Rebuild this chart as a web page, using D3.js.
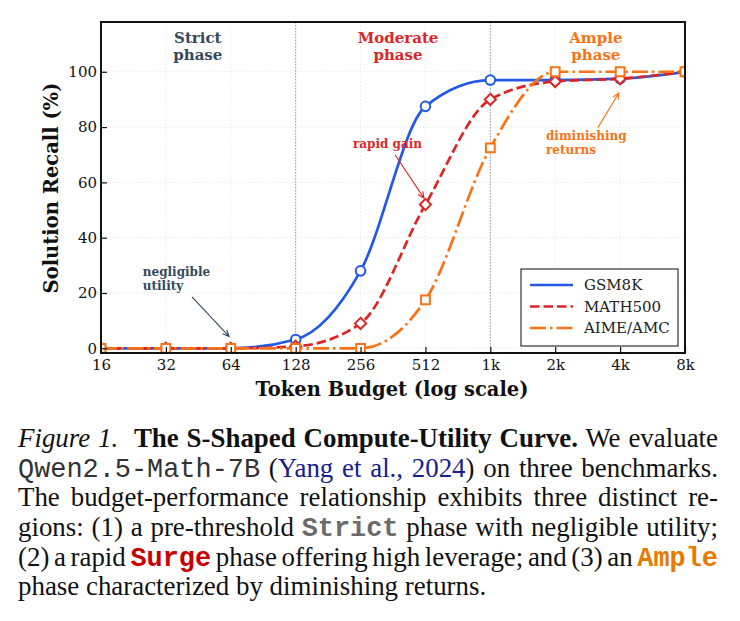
<!DOCTYPE html>
<html>
<head>
<meta charset="utf-8">
<script src="https://cdn.jsdelivr.net/npm/d3@7"></script>
<style>
    body { margin: 0; background: #fff; }
    #chart { position: absolute; left: 0; top: 0; }
    #caption {
        position: absolute; left: 18px; top: 424px; width: 700px;
        font-family: "Liberation Serif", "Times New Roman", serif;
        font-size: 26.9px; color: #111;
    }
    #caption div {
        height: 29.7px; line-height: 29.7px; white-space: normal;
        text-align: justify; text-align-last: justify; word-spacing: -4px;
    }
    #caption div.last { text-align-last: left; word-spacing: 0; }
    .tt { font-family: "Liberation Mono", "Courier New", monospace; color: #333; }
    .ttb { font-family: "Liberation Mono", "Courier New", monospace; font-weight: bold; }
</style>
</head>
<body>
<div id="chart"></div>
<div id="caption">
    <div><i>Figure 1.</i>&nbsp; <b>The S-Shaped Compute-Utility Curve.</b> We evaluate</div>
    <div><span class="tt">Qwen2.5-Math-7B</span> (<span style="color:#16208f">Yang et al., 2024</span>) on three benchmarks.</div>
    <div>The budget-performance relationship exhibits three distinct re-</div>
    <div>gions: (1) a pre-threshold <span class="ttb" style="color:#6b6b6b">Strict</span> phase with negligible utility;</div>
    <div>(2) a rapid <span class="ttb" style="color:#c80000">Surge</span> phase offering high leverage; and (3) an <span class="ttb" style="color:#e87a00">Ample</span></div>
    <div class="last">phase characterized by diminishing returns.</div>
</div>
<script>
// Data ----------------------------------------------------------------------

const budgets = [16, 32, 64, 128, 256, 512, 1024, 2048, 4096, 8192];
const budgetLabels = ["16", "32", "64", "128", "256", "512", "1k", "2k", "4k", "8k"];
const recallTicks = [0, 20, 40, 60, 80, 100];

const gsm8k = [0, 0, 0, 3.2, 28, 87.5, 97, 97, 97.5, 100];
const math500 = [0, 0, 0, 0.7, 9, 52, 90, 96.5, 97.5, 100];
const aimeAmc = [0, 0, 0, 0, 0, 17.5, 72.5, 100, 100, 100];

const seriesNames = ["GSM8K", "MATH500", "AIME/AMC"];
const seriesValues = [gsm8k, math500, aimeAmc];

// phase boundaries and labels (budget, text lines)
const phaseBounds = [128, 1024];
const phaseLabels = [
    {b: 45, lines: ["Strict", "phase"], color: "#34495e"},
    {b: 382, lines: ["Moderate", "phase"], color: "#dc2626"},
    {b: 3160, lines: ["Ample", "phase"], color: "#f97316"}
];

// annotations: text position and arrow, in data units
const notes = [
    {lines: ["negligible", "utility"], tb: 25, tv: 26.1, from: [42.3, 18.6], to: [62.8, 4.3], color: "#34495e"},
    {lines: ["rapid gain"], tb: 236, tv: 72.5, from: [370, 70], to: [504, 54.3], color: "#dc2626"},
    {lines: ["diminishing", "returns"], tb: 1855, tv: 75.4, from: [3231, 79.8], to: [4040, 92.3], color: "#f97316"}
];

// Styles --------------------------------------------------------------------

const colors = ["#2459e6", "#dc2626", "#f97316"];
const dashes = [null, "9.5 4", "16 4 2.5 4"];
const shapes = ["circle", "diamond", "square"];
const serif = "'DejaVu Serif', serif";

// Chart ---------------------------------------------------------------------

const margin = {top: 22, right: 55, bottom: 57, left: 101};
const W = 740, H = 410;

const svg = d3.select("#chart")
    .append("svg")
    .attr("width", W)
    .attr("height", H);

const x = d3.scaleLog().base(2)
    .domain([16, 8192])
    .range([margin.left, W - margin.right]);

const y = d3.scaleLinear()
    .domain([-1.7, 118])
    .range([H - margin.bottom, margin.top]);

svg.append("defs").append("clipPath")
    .attr("id", "plotclip")
    .append("rect")
    .attr("x", margin.left)
    .attr("y", margin.top)
    .attr("width", W - margin.left - margin.right)
    .attr("height", H - margin.top - margin.bottom);

// grid
const grid = svg.append("g");
grid.selectAll(".gx")
    .data(budgets.slice(1, -1))
    .enter()
    .append("line")
    .attr("x1", d => x(d)).attr("x2", d => x(d))
    .attr("y1", margin.top).attr("y2", H - margin.bottom)
    .attr("stroke", "#e4e4e4").attr("stroke-width", 0.8)
    .attr("stroke-dasharray", "1.5 2");
grid.selectAll(".gy")
    .data(recallTicks)
    .enter()
    .append("line")
    .attr("x1", margin.left).attr("x2", W - margin.right)
    .attr("y1", d => y(d)).attr("y2", d => y(d))
    .attr("stroke", "#e4e4e4").attr("stroke-width", 0.8)
    .attr("stroke-dasharray", "1.5 2");

// phase dividers
svg.selectAll(".phaseline")
    .data(phaseBounds)
    .enter()
    .append("line")
    .attr("x1", d => x(d)).attr("x2", d => x(d))
    .attr("y1", margin.top).attr("y2", H - margin.bottom)
    .attr("stroke", "#9a9a9a").attr("stroke-width", 1)
    .attr("stroke-dasharray", "1.5 1.5");

// phase labels
phaseLabels.forEach(p => {
    const t = svg.append("text")
        .attr("x", x(p.b))
        .attr("y", 43)
        .attr("text-anchor", "middle")
        .attr("font-family", serif)
        .attr("font-weight", "bold")
        .attr("font-size", 15)
        .attr("fill", p.color);
    p.lines.forEach((l, i) => {
        t.append("tspan").attr("x", x(p.b)).attr("dy", i ? 16.5 : 0).text(l);
    });
});

// series
const line = d3.line()
    .x(d => x(d[0]))
    .y(d => y(d[1]))
    .curve(d3.curveMonotoneX);

const plot = svg.append("g").attr("clip-path", "url(#plotclip)");

function markerPath(shape, cx, cy) {
    if (shape === "circle") {
        const r = 4.8;
        return `M${cx - r},${cy}a${r},${r} 0 1,0 ${2 * r},0a${r},${r} 0 1,0 ${-2 * r},0Z`;
    }
    if (shape === "diamond") {
        const r = 5.6;
        return `M${cx},${cy - r}L${cx + r},${cy}L${cx},${cy + r}L${cx - r},${cy}Z`;
    }
    const s = 4.4;
    return `M${cx - s},${cy - s}H${cx + s}V${cy + s}H${cx - s}Z`;
}

seriesValues.forEach((vals, k) => {
    const pts = budgets.map((b, i) => [b, vals[i]]);
    plot.append("path")
        .datum(pts)
        .attr("d", line)
        .attr("fill", "none")
        .attr("stroke", colors[k])
        .attr("stroke-width", 2.7)
        .attr("stroke-dasharray", dashes[k]);
    plot.selectAll(".m" + k)
        .data(pts)
        .enter()
        .append("path")
        .attr("d", d => markerPath(shapes[k], x(d[0]), y(d[1])))
        .attr("fill", "#fff")
        .attr("stroke", colors[k])
        .attr("stroke-width", 2);
});

// annotations
notes.forEach(n => {
    const t = svg.append("text")
        .attr("x", x(n.tb))
        .attr("y", y(n.tv))
        .attr("font-family", serif)
        .attr("font-weight", "bold")
        .attr("font-size", 12)
        .attr("fill", n.color);
    n.lines.forEach((l, i) => {
        t.append("tspan").attr("x", x(n.tb)).attr("dy", i ? 14 : 0).text(l);
    });
    const x1 = x(n.from[0]), y1 = y(n.from[1]);
    const x2 = x(n.to[0]), y2 = y(n.to[1]);
    const a = Math.atan2(y2 - y1, x2 - x1);
    const hl = 7, ha = 0.42;
    svg.append("path")
        .attr("d", `M${x1},${y1}L${x2},${y2}` +
            `M${x2 - hl * Math.cos(a - ha)},${y2 - hl * Math.sin(a - ha)}L${x2},${y2}` +
            `L${x2 - hl * Math.cos(a + ha)},${y2 - hl * Math.sin(a + ha)}`)
        .attr("fill", "none")
        .attr("stroke", n.color)
        .attr("stroke-width", 1.1);
});

// axes
const xaxis = d3.axisBottom(x)
    .tickValues(budgets)
    .tickFormat((d, i) => budgetLabels[i])
    .tickSizeInner(-6)
    .tickSizeOuter(0)
    .tickPadding(6);

svg.append("g")
    .attr("transform", `translate(0,${H - margin.bottom})`)
    .call(xaxis)
    .call(g => g.select(".domain").remove())
    .call(g => g.selectAll("line").attr("stroke", "#111").attr("stroke-width", 1.2))
    .call(g => g.selectAll("text").attr("font-family", serif).attr("font-size", 15).attr("fill", "#111"));

const yaxis = d3.axisLeft(y)
    .tickValues(recallTicks)
    .tickSizeInner(-6)
    .tickSizeOuter(0)
    .tickPadding(4);

svg.append("g")
    .attr("transform", `translate(${margin.left},0)`)
    .call(yaxis)
    .call(g => g.select(".domain").remove())
    .call(g => g.selectAll("line").attr("stroke", "#111").attr("stroke-width", 1.2))
    .call(g => g.selectAll("text").attr("font-family", serif).attr("font-size", 15).attr("fill", "#111"));

// frame
svg.append("rect")
    .attr("x", margin.left)
    .attr("y", margin.top)
    .attr("width", W - margin.left - margin.right)
    .attr("height", H - margin.top - margin.bottom)
    .attr("fill", "none")
    .attr("stroke", "#111")
    .attr("stroke-width", 2);

// axis labels
svg.append("text")
    .attr("x", 392)
    .attr("y", 396)
    .attr("text-anchor", "middle")
    .attr("font-family", serif)
    .attr("font-weight", "bold")
    .attr("font-size", 19.5)
    .attr("fill", "#111")
    .text("Token Budget (log scale)");

svg.append("text")
    .attr("transform", "translate(58,188) rotate(-90)")
    .attr("text-anchor", "middle")
    .attr("font-family", serif)
    .attr("font-weight", "bold")
    .attr("font-size", 19.5)
    .attr("fill", "#111")
    .text("Solution Recall (%)");

// legend
const lg = svg.append("g");
lg.append("rect")
    .attr("x", 521).attr("y", 269)
    .attr("width", 157).attr("height", 77)
    .attr("fill", "#fff")
    .attr("stroke", "#333")
    .attr("stroke-width", 1.2);

seriesNames.forEach((name, k) => {
    const ly = 285 + k * 21.5;
    lg.append("line")
        .attr("x1", 530).attr("x2", 573)
        .attr("y1", ly).attr("y2", ly)
        .attr("stroke", colors[k])
        .attr("stroke-width", 2.7)
        .attr("stroke-dasharray", dashes[k]);
    lg.append("text")
        .attr("x", 584).attr("y", ly)
        .attr("dy", "0.36em")
        .attr("font-family", serif)
        .attr("font-size", 15)
        .attr("fill", "#222")
        .text(name);
});
</script>
</body>
</html>
